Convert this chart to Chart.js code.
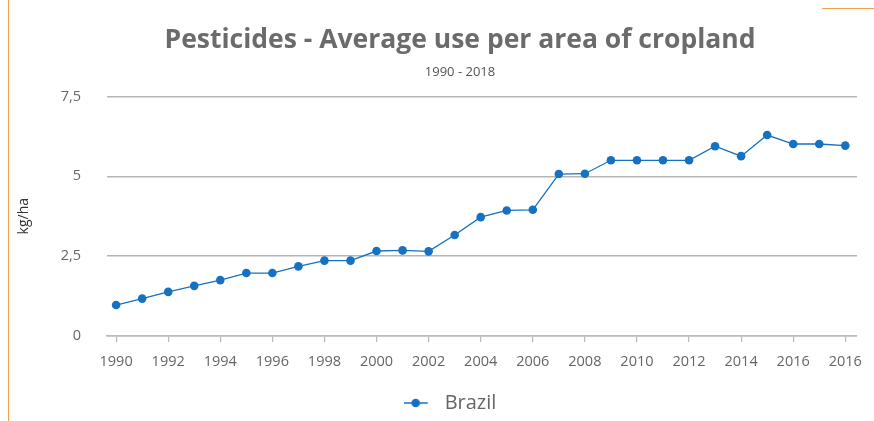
<!DOCTYPE html>
<html>
<head>
<meta charset="utf-8">
<script src="https://cdn.jsdelivr.net/npm/chart.js@4/dist/chart.umd.min.js"></script>
<style>
  html, body { margin: 0; padding: 0; background: #fff; }
  #wrap { position: relative; width: 874px; height: 421px; }
  #c { position: absolute; left: 0; top: 0; }
  .ol { position: absolute; background: #f5a04c; }
</style>
</head>
<body>
<div id="wrap">
  <canvas id="c" width="874" height="421"></canvas>
  <div class="ol" style="left:8px;top:0;width:1px;height:421px;"></div>
  <div class="ol" style="left:822px;top:8px;width:52px;height:1px;"></div>
</div>
<script>
// ---- data ----
const years = [1990,1991,1992,1993,1994,1995,1996,1997,1998,1999,2000,2001,2002,2003,2004,2005,2006,2007,2008,2009,2010,2011,2012,2013,2014,2015,2016,2017,2018];
const brazil = [0.97,1.17,1.38,1.57,1.75,1.97,1.97,2.18,2.36,2.36,2.66,2.68,2.65,3.16,3.72,3.93,3.95,5.07,5.08,5.50,5.50,5.50,5.50,5.94,5.63,6.29,6.01,6.01,5.96];
const xTickLabels = ['1990','1992','1994','1996','1998','2000','2002','2004','2006','2008','2010','2012','2014','2016','2016'];
const yTickLabels = ['0','2,5','5','7,5'];
const seriesName = 'Brazil';

const LINE = '#1572c2';
const FONT = "'Open Sans', 'Noto Sans', sans-serif";

// legend marker: line with dot (plus gap before the text)
const mk = document.createElement('canvas');
mk.width = 31; mk.height = 12;
(function(){
  const g = mk.getContext('2d');
  g.strokeStyle = LINE; g.lineWidth = 1.5;
  g.beginPath(); g.moveTo(0, 6); g.lineTo(24, 6); g.stroke();
  g.fillStyle = LINE; g.beginPath(); g.arc(12, 6, 4.3, 0, Math.PI*2); g.fill();
})();

// nudge the legend row slightly left of the title's centre, as in the reference
const legendNudge = {
  id: 'legendNudge',
  afterUpdate(chart) {
    if (chart.legend && chart.legend.lineWidths) chart.legend.lineWidths[0] += 20;
  }
};

new Chart(document.getElementById('c'), {
  type: 'line',
  plugins: [legendNudge],
  data: {
    datasets: [{
      label: seriesName,
      data: years.map((y, i) => ({x: y, y: brazil[i]})),
      borderColor: LINE,
      backgroundColor: LINE,
      borderWidth: 1.3,
      pointRadius: 4.3,
      pointBackgroundColor: LINE,
      pointBorderWidth: 0,
      tension: 0
    }]
  },
  options: {
    responsive: false,
    animation: false,
    events: [],
    layout: { padding: { left: 56, right: 10, top: 0, bottom: -2 } },
    plugins: {
      title: {
        display: true,
        text: 'Pesticides - Average use per area of cropland',
        color: '#6b6b6b',
        font: { family: FONT, size: 26.5, weight: 'bold' },
        padding: { top: 25, bottom: 8 }
      },
      subtitle: {
        display: true,
        text: '1990 - 2018',
        color: '#555',
        font: { family: FONT, size: 13 },
        padding: { top: 0, bottom: 16 }
      },
      legend: {
        position: 'bottom',
        labels: {
          usePointStyle: true,
          pointStyleWidth: 31,
          color: '#666',
          font: { family: FONT, size: 20 },
          padding: 2,
          generateLabels: (chart) => [{
            text: seriesName,
            pointStyle: mk,
            fillStyle: LINE,
            strokeStyle: LINE,
            lineWidth: 0,
            fontColor: '#666',
            datasetIndex: 0,
            hidden: false
          }]
        }
      },
      tooltip: { enabled: false }
    },
    scales: {
      x: {
        type: 'linear',
        min: 1989.65,
        max: 2018.45,
        grid: { drawOnChartArea: false, drawTicks: true, tickLength: 6, color: '#bbb', lineWidth: 1.2 },
        border: { display: true, color: '#bbb', width: 1.5 },
        ticks: {
          stepSize: 2,
          includeBounds: false,
          autoSkip: false,
          maxRotation: 0,
          padding: 11,
          color: '#666',
          font: { family: FONT, size: 14.5 },
          callback: (v) => xTickLabels[Math.round((v - 1990) / 2)]
        },
        afterFit: (s) => { s.height = 55; }
      },
      y: {
        min: 0,
        max: 7.5,
        grid: { drawTicks: false, color: '#b5b5b5', lineWidth: 1.5 },
        border: { display: false },
        ticks: {
          stepSize: 2.5,
          padding: 26,
          color: '#666',
          font: { family: FONT, size: 14.5 },
          callback: (v) => yTickLabels[Math.round(v / 2.5)]
        },
        title: {
          display: true,
          text: 'kg/ha',
          color: '#333',
          font: { family: FONT, size: 14 },
          padding: { top: -40, bottom: 0 }
        },
        afterFit: (s) => { s.width = 51; }
      },
      yRight: {
        position: 'right',
        display: true,
        grid: { display: false },
        border: { display: false },
        ticks: { display: false },
        afterFit: (s) => { s.width = 7; }
      }
    }
  }
});
</script>
</body>
</html>
